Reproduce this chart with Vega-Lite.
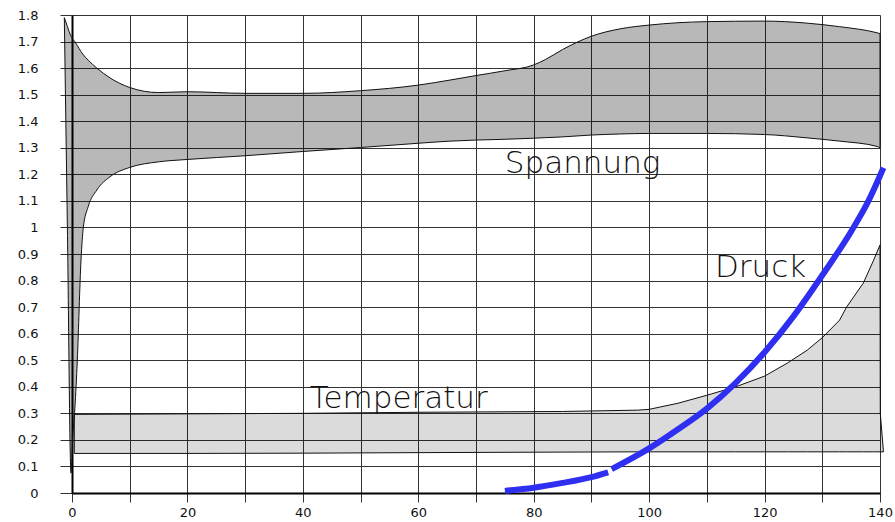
{
  "$schema": "https://vega.github.io/schema/vega-lite/v6.json",
  "width": 808,
  "height": 478,
  "autosize": {"type": "none"},
  "padding": {"left": 72, "top": 15, "right": 15, "bottom": 29},
  "background": "#ffffff",
  "config": {
    "view": {"stroke": null},
    "axis": {
      "labelFont": "DejaVu Sans",
      "labelFontSize": 13,
      "labelColor": "#111111",
      "gridColor": "#333333",
      "gridWidth": 1,
      "gridOpacity": 1,
      "tickColor": "#333333",
      "tickWidth": 1,
      "domainColor": "#000000",
      "domainWidth": 2,
      "title": null
    }
  },
  "datasets": {
    "spannung": [
      {"x": -1.33, "y": 1.79, "hi": 1.79},
      {"x": -0.8, "y": 1.0, "hi": 1.757},
      {"x": -0.17, "y": 0.075, "hi": 1.72},
      {"x": 0.1, "y": 0.2, "hi": 1.71},
      {"x": 0.5, "y": 0.32, "hi": 1.70},
      {"x": 0.92, "y": 0.5, "hi": 1.685},
      {"x": 1.56, "y": 0.877, "hi": 1.662},
      {"x": 1.96, "y": 1.0, "hi": 1.65},
      {"x": 2.8, "y": 1.078, "hi": 1.63},
      {"x": 4.3, "y": 1.141, "hi": 1.60},
      {"x": 6.6, "y": 1.191, "hi": 1.563},
      {"x": 10, "y": 1.226, "hi": 1.527},
      {"x": 15, "y": 1.247, "hi": 1.508},
      {"x": 20, "y": 1.256, "hi": 1.511},
      {"x": 30, "y": 1.27, "hi": 1.505},
      {"x": 40, "y": 1.286, "hi": 1.505},
      {"x": 50, "y": 1.301, "hi": 1.515},
      {"x": 60, "y": 1.317, "hi": 1.536},
      {"x": 65.5, "y": 1.325, "hi": 1.555},
      {"x": 70, "y": 1.329, "hi": 1.572},
      {"x": 75, "y": 1.332, "hi": 1.59},
      {"x": 80, "y": 1.336, "hi": 1.612},
      {"x": 82, "y": 1.338, "hi": 1.632},
      {"x": 85, "y": 1.341, "hi": 1.67},
      {"x": 90, "y": 1.348, "hi": 1.72},
      {"x": 95, "y": 1.352, "hi": 1.748},
      {"x": 100, "y": 1.354, "hi": 1.762},
      {"x": 110, "y": 1.354, "hi": 1.775},
      {"x": 120, "y": 1.35, "hi": 1.777},
      {"x": 127, "y": 1.338, "hi": 1.77},
      {"x": 133, "y": 1.325, "hi": 1.756},
      {"x": 139.5, "y": 1.305, "hi": 1.733},
      {"x": 140, "y": 1.30, "hi": 1.73}
    ],
    "temperatur": [
      {"x": 0.4, "y": 0.149, "hi": 0.296},
      {"x": 20, "y": 0.149, "hi": 0.298},
      {"x": 40, "y": 0.15, "hi": 0.30},
      {"x": 60, "y": 0.152, "hi": 0.304},
      {"x": 85, "y": 0.154, "hi": 0.307},
      {"x": 98, "y": 0.155, "hi": 0.312},
      {"x": 100, "y": 0.155, "hi": 0.315},
      {"x": 105, "y": 0.155, "hi": 0.338},
      {"x": 110, "y": 0.155, "hi": 0.368},
      {"x": 115, "y": 0.155, "hi": 0.40},
      {"x": 120, "y": 0.155, "hi": 0.44},
      {"x": 124, "y": 0.155, "hi": 0.49},
      {"x": 127.4, "y": 0.155, "hi": 0.538},
      {"x": 130, "y": 0.155, "hi": 0.585},
      {"x": 133, "y": 0.155, "hi": 0.651},
      {"x": 134.2, "y": 0.155, "hi": 0.70},
      {"x": 137.1, "y": 0.155, "hi": 0.79},
      {"x": 138.9, "y": 0.155, "hi": 0.877},
      {"x": 140, "y": 0.155, "hi": 0.934},
      {"x": 140.05, "y": 0.155, "hi": 0.30},
      {"x": 140.6, "y": 0.155, "hi": 0.155}
    ],
    "druck": [
      {"seg": "a", "x": 75, "y": 0.008},
      {"seg": "a", "x": 80, "y": 0.02},
      {"seg": "a", "x": 85, "y": 0.038},
      {"seg": "a", "x": 90, "y": 0.06},
      {"seg": "a", "x": 92.9, "y": 0.078},
      {"seg": "b", "x": 93.5, "y": 0.09},
      {"seg": "b", "x": 100, "y": 0.168},
      {"seg": "b", "x": 105, "y": 0.24},
      {"seg": "b", "x": 110, "y": 0.318},
      {"seg": "b", "x": 115, "y": 0.415},
      {"seg": "b", "x": 120, "y": 0.53},
      {"seg": "b", "x": 125, "y": 0.665},
      {"seg": "b", "x": 130, "y": 0.82},
      {"seg": "b", "x": 135, "y": 0.985},
      {"seg": "b", "x": 138, "y": 1.1},
      {"seg": "b", "x": 140.6, "y": 1.225}
    ],
    "labels": [
      {"x": 75, "y": 1.205, "text": "Spannung"},
      {"x": 41.2, "y": 0.32, "text": "Temperatur"},
      {"x": 111.4, "y": 0.815, "text": "Druck"}
    ]
  },
  "encoding": {
    "x": {
      "field": "x",
      "type": "quantitative",
      "scale": {"domain": [0, 140], "nice": false, "zero": false},
      "axis": {
        "values": [0, 10, 20, 30, 40, 50, 60, 70, 80, 90, 100, 110, 120, 130, 140],
        "labelExpr": "datum.value % 20 === 0 ? datum.label : ''",
        "grid": true,
        "tickSize": 9,
        "labelPadding": 4,
        "labelFlush": false,
        "labelOverlap": false
      }
    },
    "y": {
      "field": "y",
      "type": "quantitative",
      "scale": {"domain": [0, 1.8], "nice": false, "zero": false},
      "axis": {
        "values": [0, 0.1, 0.2, 0.3, 0.4, 0.5, 0.6, 0.7, 0.8, 0.9, 1, 1.1, 1.2, 1.3, 1.4, 1.5, 1.6, 1.7, 1.8],
        "format": "~g",
        "grid": true,
        "tickSize": 12,
        "labelPadding": 22,
        "labelFlush": false,
        "labelOverlap": false
      }
    }
  },
  "layer": [
    {
      "data": {"name": "temperatur"},
      "mark": {"type": "area", "fill": "#000000", "fillOpacity": 0.14, "stroke": "#111111", "strokeWidth": 1},
      "encoding": {
        "y2": {"field": "hi"}
      }
    },
    {
      "data": {"name": "spannung"},
      "mark": {"type": "area", "interpolate": "monotone", "fill": "#000000", "fillOpacity": 0.28, "stroke": "#111111", "strokeWidth": 1},
      "encoding": {
        "y2": {"field": "hi"}
      }
    },
    {
      "data": {"name": "druck"},
      "mark": {"type": "line", "interpolate": "monotone", "color": "#2f2ff2", "strokeWidth": 6},
      "encoding": {
        "detail": {"field": "seg", "type": "nominal"}
      }
    },
    {
      "data": {"name": "labels"},
      "mark": {"type": "text", "align": "left", "baseline": "alphabetic", "font": "DejaVu Sans", "fontSize": 31, "fontWeight": 200, "color": "#111111"},
      "encoding": {
        "text": {"field": "text"}
      }
    }
  ]
}
